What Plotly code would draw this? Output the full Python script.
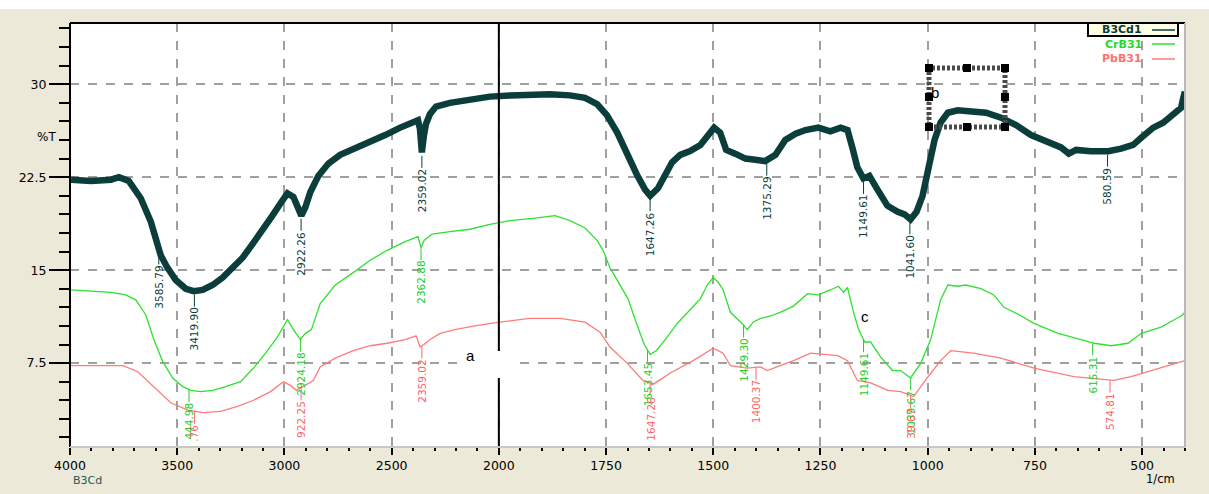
import numpy as np
import plotly.graph_objects as go

# ---------------- data (wavenumber in 1/cm, transmittance in %T) ----------------
b3cd_wn = [3995, 3902, 3809, 3772, 3726, 3670, 3623, 3577, 3549, 3507, 3460, 3423, 3381, 3335, 3288,
           3242, 3195, 3149, 3102, 3056, 3014, 2986, 2958, 2935, 2921, 2902, 2879, 2842, 2795, 2740,
           2670, 2600, 2530, 2460, 2405, 2377, 2368, 2359, 2350, 2340, 2321, 2293, 2228, 2135, 2042, 1974,
           1928, 1881, 1834, 1799, 1771, 1748, 1724, 1701, 1678, 1659, 1647, 1629, 1612, 1596, 1577,
           1554, 1530, 1512, 1498, 1484, 1470, 1449, 1425, 1402, 1379, 1355, 1332, 1308, 1285, 1255,
           1227, 1203, 1187, 1175, 1164, 1150, 1136, 1117, 1094, 1070, 1054, 1040, 1026, 1012, 998,
           984, 970, 953, 930, 900, 864, 829, 794, 759, 724, 689, 671, 654, 619, 579, 549, 521, 498,
           474, 451, 428, 409, 404, 400]
b3cd_t = [22.3, 22.2, 22.3, 22.5, 22.2, 20.8, 18.9, 16.2, 15.3, 14.2, 13.5, 13.3, 13.4, 13.8, 14.4,
          15.2, 16.0, 17.1, 18.2, 19.4, 20.5, 21.2, 20.9, 19.8, 19.4, 20.1, 21.3, 22.6, 23.6, 24.3,
          24.8, 25.4, 25.9, 26.5, 26.9, 27.1, 26.4, 24.5, 25.8, 26.8, 27.6, 28.2, 28.5, 28.8, 29.0, 29.1,
          29.2, 29.2, 29.1, 28.9, 28.4, 27.5, 26.1, 24.3, 22.7, 21.5, 21.0, 21.6, 22.7, 23.7, 24.3,
          24.6, 25.1, 26.0, 26.5, 26.1, 24.7, 24.4, 24.0, 23.9, 23.8, 24.3, 25.5, 26.0, 26.3, 26.5,
          26.2, 26.5, 26.3, 24.8, 23.3, 22.4, 22.6, 21.5, 20.2, 19.7, 19.5, 19.1, 19.7, 21.0, 23.1,
          25.5, 26.9, 27.7, 27.9, 27.8, 27.7, 27.3, 26.7, 25.9, 25.4, 24.9, 24.4, 24.7, 24.6, 24.6,
          24.8, 25.1, 25.8, 26.5, 26.9, 27.6, 28.1, 28.9, 29.4]

crb_wn = [3995, 3902, 3809, 3740, 3693, 3647, 3609, 3567, 3521, 3474, 3437, 3391, 3335, 3274, 3205,
          3144, 3088, 3033, 2986, 2958, 2926, 2902, 2874, 2833, 2763, 2679, 2600, 2521, 2437, 2377,
          2363, 2349, 2312, 2228, 2135, 2042, 1974, 1916, 1869, 1834, 1799, 1771, 1757, 1741, 1717,
          1699, 1680, 1661, 1647, 1633, 1612, 1584, 1554, 1530, 1514, 1500, 1488, 1477, 1460, 1442,
          1430, 1421, 1407, 1390, 1367, 1344, 1313, 1280, 1255, 1227, 1208, 1196, 1187, 1173, 1161,
          1147, 1133, 1110, 1082, 1063, 1040, 1016, 993, 970, 953, 930, 911, 876, 846, 822,
          787, 752, 696, 642, 612, 572, 533, 502, 456, 425, 409, 400]
crb_t = [13.4, 13.3, 13.2, 13.0, 12.6, 11.4, 9.4, 7.6, 6.3, 5.6, 5.3, 5.2, 5.3, 5.6, 6.0,
         7.1, 8.3, 9.6, 11.0, 10.2, 9.4, 9.9, 10.2, 12.3, 13.8, 14.8, 15.8, 16.6, 17.3, 17.7,
         16.8, 17.4, 17.9, 18.1, 18.3, 18.7, 19.0, 19.2, 19.4, 19.0, 18.4, 17.4, 16.6, 15.2, 13.8,
         12.7, 10.8, 9.0, 8.2, 8.5, 9.4, 10.7, 11.8, 12.7, 13.8, 14.4, 14.0, 13.4, 11.6, 11.0,
         10.6, 10.2, 10.8, 11.1, 11.3, 11.6, 12.1, 13.1, 13.0, 13.4, 13.7, 13.2, 13.6, 11.6, 10.2,
         9.2, 9.2, 8.0, 6.9, 6.9, 6.3, 7.5, 9.4, 12.6, 13.8, 13.7, 13.8, 13.5, 13.0, 12.0,
         11.4, 10.7, 9.9, 9.4, 9.1, 8.9, 9.1, 9.9, 10.4, 11.0, 11.3, 11.6]

pbb_wn = [3995, 3902, 3809, 3753, 3684, 3609, 3530, 3451, 3377, 3298, 3219, 3144, 3065, 3005, 2972,
          2944, 2912, 2865, 2833, 2763, 2679, 2600, 2521, 2437, 2386, 2367, 2349, 2321, 2274, 2205,
          2112, 1998, 1928, 1857, 1799, 1764, 1741, 1701, 1664, 1640, 1600, 1547, 1500, 1477, 1460,
          1421, 1390, 1374, 1344, 1313, 1273, 1210, 1187, 1164, 1133, 1093, 1063, 1033, 999, 970,
          946, 893, 829, 752, 659, 596, 566, 526, 486, 440, 400]
pbb_t = [7.3, 7.3, 7.3, 7.3, 6.8, 5.6, 4.3, 3.7, 3.5, 3.6, 4.0, 4.5, 5.2, 6.0, 5.7,
         5.3, 5.6, 6.1, 7.2, 7.9, 8.5, 8.9, 9.1, 9.4, 9.7, 8.8, 9.0, 9.4, 9.9, 10.2,
         10.5, 10.8, 11.1, 11.1, 10.8, 10.0, 8.8, 7.5, 6.1, 5.8, 6.7, 7.7, 8.7, 8.3, 7.3,
         7.1, 7.2, 6.9, 7.3, 7.7, 8.3, 8.1, 7.7, 6.1, 5.9, 5.3, 5.2, 4.8, 6.4, 7.7,
         8.5, 8.3, 7.9, 7.1, 6.4, 6.2, 6.1, 6.4, 6.8, 7.3, 7.7]

# peak picks (wavenumber) and the part of each label that is visible
b3cd_peaks = [3585.79, 3419.90, 2922.26, 2359.02, 1647.26, 1375.29, 1149.61, 1041.60, 580.59]
b3cd_peak_text = ["3585.79", "3419.90", "2922.26", "2359.02", "1647.26", "1375.29", "1149.61", "1041.60", "580.59"]
crb_peaks = [3444.98, 2924.18, 2362.88, 1653.45, 1429.30, 1149.61, 1039.67, 615.31]
crb_peak_text = ["444.98", "2924.18", "2362.88", "1653.45", "1429.30", "1149.61", "1039.67", "615.31"]
pbb_peaks = [3419.76, 2922.25, 2359.02, 1647.26, 1400.37, 1039.67, 574.81]
pbb_peak_text = [".76", "922.25", "2359.02", "1647.26", "1400.37", "39.67", "574.81"]

x_tick_wn = [4000, 3500, 3000, 2500, 2000, 1750, 1500, 1250, 1000, 750, 500]
y_tick_vals = [7.5, 15, 22.5, 30]
series_names = ["B3Cd1", "CrB31", "PbB31"]

# ---------------- styling ----------------
C_DARK = "#0b3d3b"
C_GREEN = "#2fe02f"
C_PINK = "#ff7b7b"
BEIGE = "#ECE9D8"
W, H = 1209, 494
ML, MR, MT, MB = 70, 24, 23, 47
PW, PH = W - ML - MR, H - MT - MB


def wn_to_u(wn):
    """FTIR dual scale: 4000-2000 compressed 2x relative to 2000-400."""
    wn = np.asarray(wn, dtype=float)
    return np.where(wn >= 2000, (4000 - wn) / 2.0, 1000 + (2000 - wn))


def px(x):  # page pixel -> paper x
    return (x - ML) / PW


def py(y):  # page pixel -> paper y
    return (H - MB - y) / PH


YR = [0.73, 34.94]
PX_PER_UNIT = PH / (YR[1] - YR[0])

fig = go.Figure()

series = [
    (b3cd_wn, b3cd_t, C_DARK, 6.5),
    (crb_wn, crb_t, C_GREEN, 1.3),
    (pbb_wn, pbb_t, C_PINK, 1.3),
]
for (wn, t, col, lw), name in zip(series, series_names):
    fig.add_trace(go.Scatter(x=wn_to_u(wn), y=t, mode="lines", name=name,
                             line=dict(color=col, width=lw), showlegend=False,
                             hoverinfo="skip"))

annotations = []
label_sets = [
    (b3cd_peaks, b3cd_peak_text, b3cd_wn, b3cd_t, C_DARK, 3.5),
    (crb_peaks, crb_peak_text, crb_wn, crb_t, "#22cc22", 0.5),
    (pbb_peaks, pbb_peak_text, pbb_wn, pbb_t, "#ff6464", 0.5),
]
for peaks, texts, wn, t, col, gap_px in label_sets:
    xs, ys = [], []
    wn_rev = np.asarray(wn)[::-1]
    t_rev = np.asarray(t)[::-1]
    for p, txt in zip(peaks, texts):
        yc = float(np.interp(p, wn_rev, t_rev))
        y0 = yc - gap_px / PX_PER_UNIT
        y1 = y0 - 12 / PX_PER_UNIT
        u = float(wn_to_u(p))
        xs += [u, u, None]
        ys += [y0, y1, None]
        annotations.append(dict(x=u, y=y1, xref="x", yref="y", text=txt, textangle=-90,
                                showarrow=False, xanchor="center", yanchor="top", borderpad=0,
                                font=dict(family="DejaVu Sans", size=10.5, color=col)))
    fig.add_trace(go.Scatter(x=xs, y=ys, mode="lines", line=dict(color=col, width=1),
                             showlegend=False, hoverinfo="skip"))

# ---------------- shapes ----------------
shapes = []
# white strip at very top of the window
shapes.append(dict(type="rect", xref="paper", yref="paper", x0=px(0), x1=px(W), y0=py(9), y1=py(0),
                   fillcolor="white", line=dict(width=0), layer="below"))
# solid 2000 divider
shapes.append(dict(type="line", xref="x", yref="paper", x0=float(wn_to_u(2000)), x1=float(wn_to_u(2000)),
                   y0=0, y1=1, line=dict(color="black", width=2)))
# white box behind label a
shapes.append(dict(type="rect", xref="paper", yref="paper", x0=px(458), x1=px(516), y0=py(378), y1=py(351),
                   fillcolor="white", line=dict(width=0)))
# hatched selection box b
shapes.append(dict(type="rect", xref="paper", yref="paper", x0=px(929), x1=px(1005), y0=py(127), y1=py(68),
                   line=dict(color="#4a4a4a", width=5, dash="3px,2px")))
for hx in (929, 967, 1005):
    for hy in (68, 97, 127):
        if hx == 967 and hy == 97:
            continue
        shapes.append(dict(type="rect", xref="paper", yref="paper", x0=px(hx - 4), x1=px(hx + 4),
                           y0=py(hy + 4), y1=py(hy - 4), fillcolor="black", line=dict(width=0)))
# frame: dark top/left, light bottom/right
shapes.append(dict(type="line", xref="paper", yref="paper", x0=0, x1=1, y0=1, y1=1, line=dict(color="black", width=2)))
shapes.append(dict(type="line", xref="paper", yref="paper", x0=0, x1=0, y0=0, y1=1, line=dict(color="black", width=2)))
shapes.append(dict(type="line", xref="paper", yref="paper", x0=0, x1=1, y0=0, y1=0, line=dict(color="#c8c8c8", width=2)))
shapes.append(dict(type="line", xref="paper", yref="paper", x0=1, x1=1, y0=0, y1=1, line=dict(color="#b8b8b8", width=2)))

# legend (text then line sample, as in the original)
shapes.append(dict(type="rect", xref="paper", yref="paper", x0=px(1088), x1=px(1178), y0=py(36), y1=py(23),
                   fillcolor="#FFFFE6", line=dict(color="black", width=2)))
leg_y = [30, 44, 59]
leg_cols = [C_DARK, C_GREEN, C_PINK]
leg_txt_cols = [C_DARK, "#22dd22", "#ff7070"]
for name, yy, col, tcol in zip(series_names, leg_y, leg_cols, leg_txt_cols):
    shapes.append(dict(type="line", xref="paper", yref="paper", x0=px(1152), x1=px(1175), y0=py(yy), y1=py(yy),
                       line=dict(color=col, width=1.5)))
    annotations.append(dict(x=px(1143), y=py(yy), xref="paper", yref="paper", text="<b>" + name + "</b>",
                            showarrow=False, xanchor="right", yanchor="middle", borderpad=0,
                            font=dict(family="DejaVu Sans", size=11, color=tcol)))

# text labels a, b, c and axis captions
annotations += [
    dict(x=px(470), y=py(366), xref="paper", yref="paper", text="a", showarrow=False,
         font=dict(family="Liberation Sans", size=15, color="black")),
    dict(x=px(941), y=py(82), xref="paper", yref="paper", text="b", showarrow=False,
         font=dict(family="Liberation Sans", size=15, color="black")),
    dict(x=px(871), y=py(327), xref="paper", yref="paper", text="c", showarrow=False,
         font=dict(family="Liberation Sans", size=15, color="black")),
    dict(x=px(35), y=py(128), xref="paper", yref="paper", text="%T", showarrow=False,
         font=dict(family="DejaVu Sans", size=12, color="black")),
    dict(x=px(72), y=py(488), xref="paper", yref="paper", text="B3Cd", showarrow=False, xanchor="left",
         borderpad=0, font=dict(family="DejaVu Sans", size=11, color="#1c5a58")),
    dict(x=px(1176), y=py(487), xref="paper", yref="paper", text="1/cm", showarrow=False, xanchor="right",
         borderpad=0, font=dict(family="DejaVu Sans", size=11.5, color="black")),
]

minor_x = sorted(set(list(range(4000, 1999, -100)) + list(range(2000, 399, -50))))
minor_y = [1.5 * k for k in range(1, 24)]

fig.update_layout(
    width=W, height=H,
    margin=dict(l=ML, r=MR, t=MT, b=MB),
    paper_bgcolor=BEIGE, plot_bgcolor="white",
    showlegend=False,
    shapes=shapes, annotations=annotations,
    xaxis=dict(range=[0, 2600], tickmode="array", tickvals=list(wn_to_u(x_tick_wn)),
               ticktext=[str(v) for v in x_tick_wn], ticks="outside", ticklen=7, tickwidth=2,
               tickcolor="black", showgrid=True, gridcolor="#a0a0a0", griddash="dash", gridwidth=1.5,
               zeroline=False, showline=False,
               tickfont=dict(family="DejaVu Sans", size=12.5, color="black"),
               minor=dict(tickmode="array", tickvals=list(wn_to_u(minor_x)), ticks="outside",
                          ticklen=3, tickwidth=2, tickcolor="black", showgrid=False)),
    yaxis=dict(range=YR, tickmode="array", tickvals=y_tick_vals,
               ticktext=["7.5", "15", "22.5", "30"], ticks="outside", ticklen=20, tickwidth=2,
               tickcolor="black", showgrid=True, gridcolor="#a0a0a0", griddash="dash", gridwidth=1.5,
               zeroline=False, showline=False,
               tickfont=dict(family="DejaVu Sans", size=12.5, color="black"),
               minor=dict(tickmode="array", tickvals=minor_y, ticks="outside", ticklen=10,
                          tickwidth=2, tickcolor="black", showgrid=False)),
)

fig.write_html("out.html")
